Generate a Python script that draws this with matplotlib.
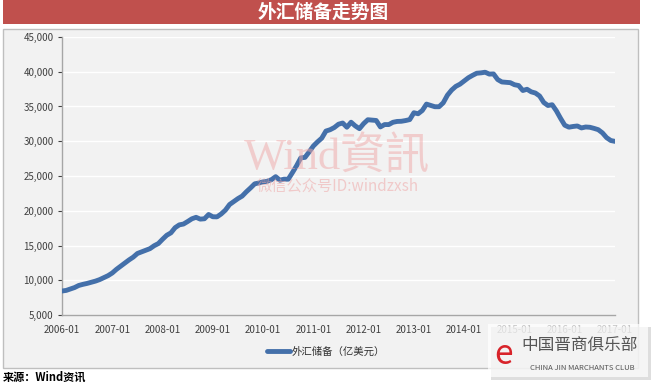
# -*- coding: utf-8 -*-
"""外汇储备走势图 (2006-01 ~ 2017-01)"""

import pandas as pd
import matplotlib.pyplot as plt
from matplotlib.patches import Rectangle
from matplotlib.ticker import FuncFormatter

plt.rcParams['font.family'] = ['Noto Sans CJK SC', 'DejaVu Sans']

# 月度外汇储备 (亿美元), 2006-01 起
reserves = [
    8451, 8537, 8751, 8950, 9250, 9411, 9545, 9720, 9879, 10096, 10387, 10663,
    11046, 11573, 12020, 12466, 12926, 13326, 13852, 14086, 14336, 14548, 14968, 15282,
    15898, 16471, 16822, 17566, 17969, 18088, 18452, 18841, 19056, 18795, 18847, 19460,
    19135, 19121, 19537, 20089, 20895, 21316, 21750, 22108, 22726, 23283, 23876, 23992,
    24153, 24245, 24471, 24905, 24395, 24543, 24538, 25483, 26483, 27609, 27678, 28473,
    29317, 29914, 30447, 31467, 31660, 31975, 32452, 32625, 32017, 32738, 32209, 31811,
    32536, 33096, 33050, 32989, 32061, 32400, 32400, 32730, 32851, 32874, 32977, 33116,
    34100, 33955, 34426, 35345, 35148, 34967, 34967, 35530, 36627, 37363, 37895, 38213,
    38666, 39137, 39481, 39788, 39839, 39932, 39661, 39688, 38877, 38529, 38473, 38430,
    38134, 38015, 37300, 37481, 37111, 36938, 36513, 35574, 35141, 35255, 34383, 33304,
    32309, 32023, 32126, 32197, 31917, 32052, 32011, 31852, 31664, 31206, 30516, 30105,
    29982,
]
months = pd.date_range('2006-01', periods=len(reserves), freq='MS')
tick_labels = ['2006-01', '2007-01', '2008-01', '2009-01', '2010-01', '2011-01',
               '2012-01', '2013-01', '2014-01', '2015-01', '2016-01', '2017-01']
y_ticks = [5000, 10000, 15000, 20000, 25000, 30000, 35000, 40000, 45000]

W, H = 660, 385
fig = plt.figure(figsize=(W / 100, H / 100), dpi=100)
fig.patch.set_facecolor('white')


def fx(px):
    return px / W


def fy(py):
    return 1 - py / H


# 标题栏
fig.patches.append(Rectangle((fx(3), fy(24)), fx(637), 24 / H, transform=fig.transFigure,
                             facecolor='#C0504D', edgecolor='none', zorder=-2))
fig.text(fx(323), fy(12), '外汇储备走势图', color='white', fontsize=13.5, fontweight='bold',
         ha='center', va='center')

# 图表区
fig.patches.append(Rectangle((fx(3), fy(368)), fx(635), 339 / H, transform=fig.transFigure,
                             facecolor='#F2F2F2', edgecolor='#BFBFBF', linewidth=1, zorder=-2))

ax = fig.add_axes([fx(62), fy(315), fx(553), 278 / H])
ax.set_facecolor('#F2F2F2')
x = list(range(len(reserves)))
ax.plot(x, reserves, color='#4470AA', linewidth=3.5, solid_capstyle='round', zorder=3,
        label='外汇储备（亿美元）')

ax.set_ylim(5000, 45000)
ax.set_xlim(0, 132)
ax.set_yticks(y_ticks)
ax.yaxis.set_major_formatter(FuncFormatter(lambda v, p: f'{int(v):,}'))
tick_pos = [months.get_loc(pd.Timestamp(t + '-01')) for t in tick_labels]
ax.set_xticks(tick_pos)
ax.set_xticklabels(tick_labels)
ax.tick_params(axis='y', labelsize=7, colors='#404040', length=3, width=0.8, pad=3)
ax.tick_params(axis='x', labelsize=7, colors='#404040', length=0, pad=7)
ax.grid(axis='y', color='white', linewidth=1)
ax.set_axisbelow(True)
for s in ['top', 'right']:
    ax.spines[s].set_visible(False)
for s in ['left', 'bottom']:
    ax.spines[s].set_color('#A6A6A6')
    ax.spines[s].set_linewidth(1)

# 图例
leg = fig.legend(loc='center', bbox_to_anchor=(fx(326), fy(352)), frameon=False,
                 fontsize=7.5, handlelength=2.2, handletextpad=0.1)
for t in leg.get_texts():
    t.set_color('#303030')

# 水印
fig.text(fx(337), fy(157), 'Wind資訊', family=['Liberation Serif', 'Noto Sans CJK TC'],
         fontsize=32, color='#EFA8A8', alpha=0.5, ha='center', va='center', zorder=4)
fig.text(fx(338), fy(186), '微信公众号ID:windzxsh', family=['Noto Sans CJK SC', 'Liberation Serif'],
         fontsize=11, color='#EFA8A8', alpha=0.55, ha='center', va='center', zorder=4)

# 来源
fig.text(fx(3), fy(377), '来源：Wind资讯', fontsize=8, fontweight='bold', color='black',
         ha='left', va='center')

# 右下角标志
fig.patches.append(Rectangle((fx(491), fy(380)), fx(160), 53 / H, transform=fig.transFigure,
                             facecolor='#C8C8C8', edgecolor='none', alpha=0.6, zorder=5))
fig.patches.append(Rectangle((fx(488), fy(377)), fx(160), 53 / H, transform=fig.transFigure,
                             facecolor='white', edgecolor='none', alpha=0.7, zorder=6))
fig.text(fx(503), fy(355), 'e', fontsize=24, color='#D8232A', style='italic',
         ha='center', va='center', zorder=7)
fig.text(fx(580), fy(345), '中国晋商俱乐部', fontsize=12, color='#555555',
         ha='center', va='center', zorder=7)
fig.text(fx(582), fy(368), 'CHINA JIN MARCHANTS CLUB', fontsize=5.5, color='#555555',
         ha='center', va='center', zorder=7)

fig.savefig('out.png', dpi=100)
